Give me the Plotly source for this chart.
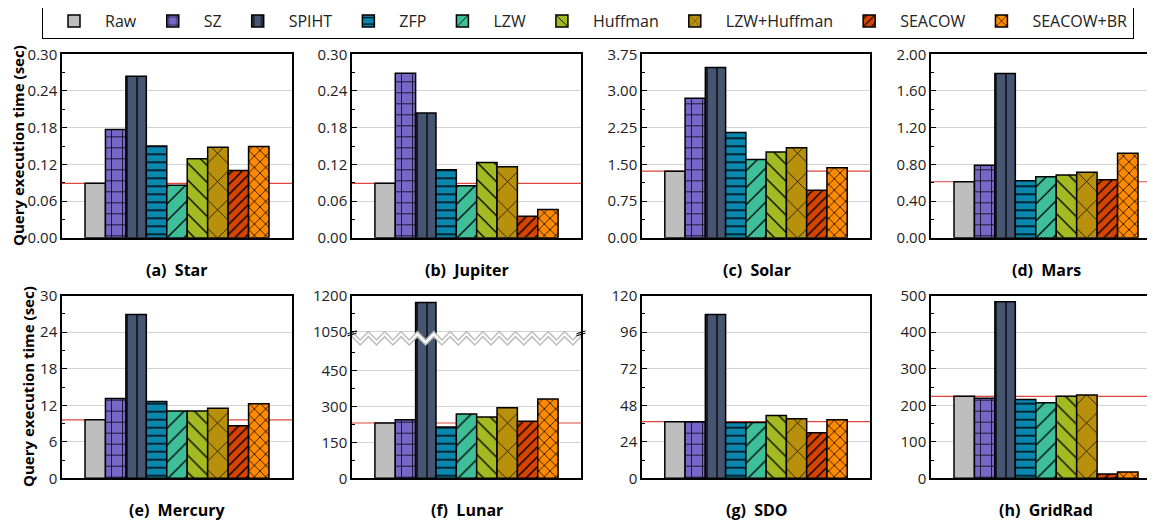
import numpy as np
import plotly.graph_objects as go
from plotly.subplots import make_subplots

# ---------------- data ----------------
methods = ["Raw", "SZ", "SPIHT", "ZFP", "LZW", "Huffman", "LZW+Huffman", "SEACOW", "SEACOW+BR"]

star = [0.089, 0.177, 0.264, 0.150, 0.086, 0.129, 0.148, 0.110, 0.149]
jupiter = [0.089, 0.269, 0.204, 0.111, 0.085, 0.123, 0.116, 0.035, 0.046]
solar = [1.36, 2.85, 3.48, 2.15, 1.60, 1.75, 1.84, 0.97, 1.43]
mars = [0.61, 0.79, 1.79, 0.62, 0.665, 0.684, 0.713, 0.633, 0.92]
mercury = [9.6, 13.1, 26.9, 12.6, 11.05, 11.05, 11.5, 8.65, 12.26]
lunar = [231, 245, 1172, 214, 269, 256, 295, 238, 331]
sdo = [37.2, 37.2, 107.7, 36.6, 36.6, 41.2, 39.2, 30.0, 38.5]
gridrad = [224.5, 219, 483.6, 216, 207, 224.5, 228, 11.9, 17.3]

datasets = ["Star", "Jupiter", "Solar", "Mars", "Mercury", "Lunar", "SDO", "GridRad"]
panel_letters = ["a", "b", "c", "d", "e", "f", "g", "h"]
values = [star, jupiter, solar, mars, mercury, lunar, sdo, gridrad]
y_max = [0.30, 0.30, 3.75, 2.00, 30, 1200, 120, 500]
y_dtick = [0.06, 0.06, 0.75, 0.40, 6, 150, 24, 100]
y_fmt = [".2f", ".2f", ".2f", ".2f", "d", "d", "d", "d"]

# Lunar broken axis
lunar_ticks = [0, 150, 300, 450, 1050, 1200]
break_low = 557     # top of lower segment (data units)
break_high = 1050   # bottom of upper segment (data units)
break_disp = 613    # display position of break_high

# ---------------- style ----------------
colors = ["#BEBEBE", "#7767C7", "#465570", "#0A87AE", "#3EBF9A",
          "#A3BA22", "#B8900B", "#D64400", "#FF8A00"]
patterns = ["", "+", "|", "-", "/", "\\", "x", "/", "x"]
pat_size = [8, 11, 10, 8, 12, 12, 20, 7, 8]
pat_sol = [0.2, 0.13, 0.13, 0.18, 0.11, 0.11, 0.07, 0.2, 0.18]

PAGE_W, PAGE_H = 1155, 525
OFF = 8                      # default page body margin
W, H = PAGE_W - OFF, PAGE_H - OFF
FONT = "Open Sans"

# target page-pixel boxes of the plot areas
col_px = [(62, 292), (352, 581), (642, 870), (931, 1161)]
row_px = [(54.3, 237.7), (295.7, 478.3)]


def px_x(px):
    return (px - OFF) / W


def px_y(py):
    return 1 - (py - OFF) / H


def lunar_disp(v):
    return v if v <= break_low else v - (break_high - break_disp)


def axname(n):
    return "" if n == 1 else str(n)


fig = make_subplots(rows=2, cols=4)

for i in range(8):
    r, c = divmod(i, 4)
    ax = i + 1
    vals = values[i]
    if datasets[i] == "Lunar":
        yvals = [lunar_disp(v) for v in vals]
    else:
        yvals = vals
    for k, m in enumerate(methods):
        fig.add_trace(go.Bar(
            x=[0], y=[yvals[k]], name=m, legendgroup=m,
            showlegend=(i == 0),
            marker=dict(color=colors[k],
                        line=dict(color="black", width=1.5),
                        pattern=dict(shape=patterns[k], fgcolor="black",
                                     bgcolor=colors[k], size=pat_size[k],
                                     solidity=pat_sol[k], fillmode="overlay",
                                     fgopacity=1)),
            hovertemplate=f"{datasets[i]} - {m}: {vals[k]}<extra></extra>",
        ), row=r + 1, col=c + 1)

    x0p, x1p = col_px[c]
    y0p, y1p = row_px[r]
    vis_right = min(x1p, PAGE_W)
    dom_x = [px_x(x0p), min(px_x(vis_right), 1.0)]
    xr = [-0.5, -0.5 + (vis_right - x0p) / (x1p - x0p)]
    fig.update_xaxes(domain=dom_x, range=xr, showticklabels=False, ticks="",
                     showgrid=False, zeroline=False, showline=True,
                     linecolor="black", linewidth=2, mirror=True,
                     row=r + 1, col=c + 1)
    yaxis_common = dict(domain=[px_y(y1p), px_y(y0p)], showline=True,
                        linecolor="black", linewidth=1.5,
                        mirror=(x1p <= PAGE_W), ticks="inside", ticklen=5,
                        tickcolor="black", tickwidth=1,
                        showgrid=True, gridcolor="#D3D3D3", gridwidth=1,
                        zeroline=False,
                        tickfont=dict(family=FONT, size=15, color="#222"))
    if datasets[i] == "Lunar":
        disp_ticks = [lunar_disp(v) for v in lunar_ticks]
        minor_vals = [lunar_disp(v) for v in [75, 225, 375, 525, 1125]]
        fig.update_yaxes(range=[0, lunar_disp(1200)], tickmode="array",
                         tickvals=disp_ticks,
                         ticktext=[str(v) for v in lunar_ticks],
                         minor=dict(tickmode="array", tickvals=minor_vals,
                                    ticks="inside", ticklen=3,
                                    tickcolor="black", showgrid=False),
                         **yaxis_common, row=r + 1, col=c + 1)
    else:
        fig.update_yaxes(range=[0, y_max[i]], tick0=0, dtick=y_dtick[i],
                         tickformat=y_fmt[i],
                         minor=dict(dtick=y_dtick[i] / 2, ticks="inside",
                                    ticklen=3, tickcolor="black",
                                    showgrid=False),
                         **yaxis_common, row=r + 1, col=c + 1)

    # reference line at Raw value
    ref = yvals[0]
    fig.add_shape(type="line", xref=f"x{axname(ax)} domain", yref=f"y{axname(ax)}",
                  x0=0, x1=1, y0=ref, y1=ref, layer="below",
                  line=dict(color="#E0453F", width=1.2))

    # panel title
    ty = 270 if r == 0 else 510
    fig.add_annotation(text=f"<b>({panel_letters[i]})  {datasets[i]}</b>",
                       xref="paper", yref="paper",
                       x=px_x(x0p + 115), y=px_y(ty),
                       showarrow=False, xanchor="center", yanchor="middle",
                       font=dict(family=FONT, size=16, color="black"))

# Lunar axis break zigzag
lun_ax = datasets.index("Lunar") + 1
n_teeth = 29
zx = np.linspace(-0.5, 0.5, n_teeth)
amp = 35
gap = 21
upper = np.array([break_disp if j % 2 == 0 else break_disp - amp for j in range(n_teeth)])
lower = upper - gap
fig.add_trace(go.Scatter(
    x=np.concatenate([zx, zx[::-1], zx[:1]]),
    y=np.concatenate([upper, lower[::-1], upper[:1]]),
    mode="lines", fill="toself", fillcolor="white",
    line=dict(color="#BDBDBD", width=1.5), showlegend=False, hoverinfo="skip",
), row=2, col=2)
for side in (0, 1):
    for off in (0, 9):
        fig.add_shape(type="line", xref=f"x{axname(lun_ax)} domain",
                      yref=f"y{axname(lun_ax)}",
                      x0=side - 0.02, x1=side + 0.02,
                      y0=break_disp - 18 + off, y1=break_disp - 6 + off,
                      line=dict(color="black", width=1))

# y axis titles
for (xpx, ypx) in [(18, (54.3 + 237.7) / 2), (28, (295.7 + 478.3) / 2)]:
    fig.add_annotation(text="<b>Query execution time (sec)</b>", textangle=-90,
                       xref="paper", yref="paper", x=px_x(xpx), y=px_y(ypx),
                       showarrow=False, xanchor="center", yanchor="middle",
                       font=dict(family=FONT, size=15, color="black"))

fig.update_layout(
    width=W, height=H, margin=dict(l=0, r=0, t=0, b=0, autoexpand=False),
    paper_bgcolor="white", plot_bgcolor="white",
    barmode="group", bargap=0.2, bargroupgap=0,
    font=dict(family=FONT, color="black"),
    legend=dict(orientation="h", x=px_x(588), xanchor="center",
                y=px_y(3), yanchor="top", bordercolor="black",
                borderwidth=1, bgcolor="white", itemwidth=52,
                font=dict(family=FONT, size=16, color="#222"),
                traceorder="normal"),
)

fig.write_html("out.html")
